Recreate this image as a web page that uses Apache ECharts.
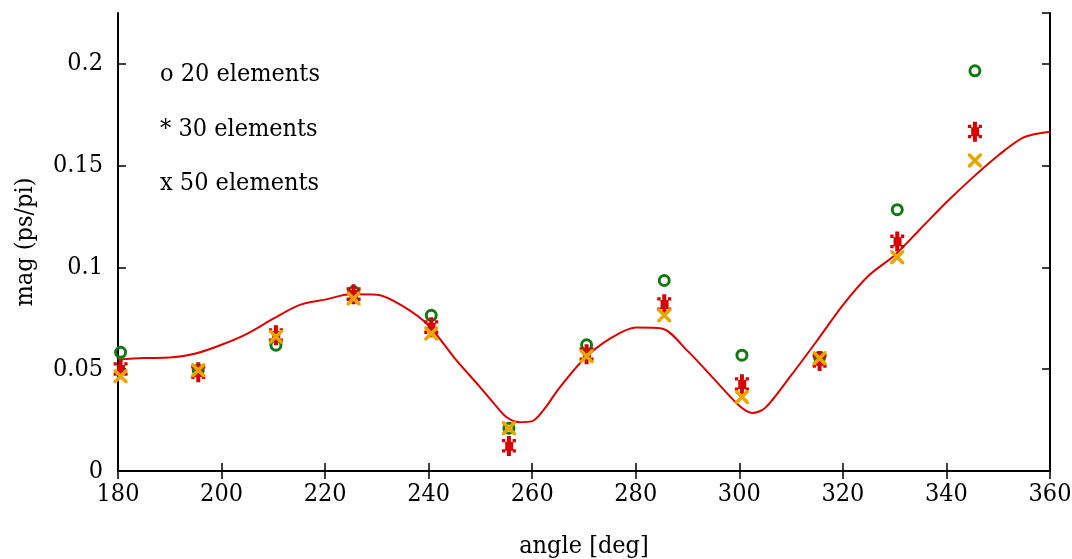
<!DOCTYPE html>
<html>
<head>
<meta charset="utf-8">
<script src="https://cdn.jsdelivr.net/npm/echarts@6/dist/echarts.min.js"></script>
<style>
  html, body { margin: 0; padding: 0; background: #fff; }
  #main { width: 1072px; height: 559px; }
</style>
</head>
<body>
<div id="main"></div>
<script>
// sample angles (deg) for the three element counts
var angles = [180.5, 195.5, 210.5, 225.5, 240.5, 255.5, 270.5, 285.5, 300.5, 315.5, 330.5, 345.5]
var mag20 = [0.0583, 0.0495, 0.0618, 0.088, 0.0765, 0.021, 0.062, 0.0936, 0.0569, 0.0559, 0.1284, 0.1966]
var mag30 = [0.050, 0.0485, 0.0667, 0.0868, 0.0706, 0.0123, 0.0574, 0.0819, 0.0426, 0.054, 0.1127, 0.1667]
var mag50 = [0.0466, 0.0495, 0.066, 0.0848, 0.0676, 0.021, 0.0564, 0.0765, 0.0363, 0.0554, 0.105, 0.1525]

// reference curve
var curveAngle = [180, 185, 190, 195, 200, 205, 210, 215, 220, 225, 230, 235, 240, 245, 250, 252.5, 255, 257.5, 260, 262.5, 265, 270, 275, 280, 285, 290, 295, 300, 302.5, 305, 310, 315, 320, 325, 330, 335, 340, 345, 350, 355, 360]
var curveMag = [0.0548, 0.0555, 0.0557, 0.0577, 0.062, 0.0675, 0.0748, 0.0815, 0.0842, 0.0868, 0.0866, 0.081, 0.0715, 0.0555, 0.041, 0.0335, 0.0265, 0.024, 0.0245, 0.031, 0.040, 0.055, 0.065, 0.0705, 0.070, 0.059, 0.0455, 0.032, 0.0285, 0.031, 0.047, 0.064, 0.0815, 0.096, 0.106, 0.119, 0.132, 0.144, 0.155, 0.164, 0.1667]

var legendLines = ['o 20 elements', '* 30 elements', 'x 50 elements']

var FONT = '"DejaVu Serif Condensed", "DejaVu Serif", serif'
var FS = 25
var starPath = 'path://M5,0h4v20h-4z M3.3,5.7h8v9h-8z M0,3h3.3v3.3h-3.3z M10.7,3h3.3v3.3h-3.3z M0,13.3h3.3v3.3h-3.3z M10.7,13.3h3.3v3.3h-3.3z'
var crossPath = 'path://M0,0 L2.5,0 L14,11.5 L14,14 L11.5,14 L0,2.5 Z M11.5,0 L14,0 L14,2.5 L2.5,14 L0,14 L0,11.5 Z'

function zip(xs, ys) {
  return xs.map(function (x, i) { return [x, ys[i]] })
}

var myChart = echarts.init(document.getElementById('main'))

var lineAxis = { show: true, lineStyle: { color: '#000', width: 2 } }
var tickIn = { show: true, inside: true, length: 8, lineStyle: { color: '#000', width: 1.5 } }

var option = {
  animation: false,
  backgroundColor: '#fff',
  grid: { left: 118, right: 22, top: 13, bottom: 88, outerBoundsMode: 'none', containLabel: false },
  xAxis: [{
    type: 'value', min: 180, max: 360, interval: 20,
    name: 'angle [deg]', nameLocation: 'middle', nameGap: 63,
    nameTextStyle: { fontFamily: FONT, fontSize: FS, color: '#000' },
    axisLine: lineAxis, axisTick: tickIn,
    axisLabel: { fontFamily: FONT, fontSize: FS, color: '#000', margin: 11 },
    splitLine: { show: false }
  }, {
    type: 'value', position: 'top', min: 180, max: 360, interval: 20,
    axisLine: lineAxis, axisTick: tickIn,
    axisLabel: { show: false }, splitLine: { show: false }
  }],
  yAxis: [{
    type: 'value', min: 0, max: 0.225, interval: 0.05,
    name: 'mag (ps/pi)', nameLocation: 'middle', nameGap: 80,
    nameTextStyle: { fontFamily: FONT, fontSize: FS, color: '#000' },
    axisLine: lineAxis, axisTick: tickIn,
    axisLabel: { fontFamily: FONT, fontSize: FS, color: '#000', margin: 15, showMaxLabel: false },
    splitLine: { show: false }
  }, {
    type: 'value', position: 'right', min: 0, max: 0.225, interval: 0.05,
    axisLine: lineAxis, axisTick: tickIn,
    axisLabel: { show: false }, splitLine: { show: false }
  }],
  graphic: legendLines.map(function (t, i) {
    return {
      type: 'text', left: 160, top: 62 + i * 54.5,
      style: { text: t, font: FS + 'px ' + FONT, fill: '#000' }
    }
  }),
  series: [
    {
      type: 'line', data: zip(curveAngle, curveMag), showSymbol: false, smooth: 0.3,
      lineStyle: { color: '#dd0000', width: 2 }, z: 2
    },
    {
      type: 'scatter', data: zip(angles, mag20), symbol: 'circle', symbolSize: 10,
      itemStyle: { color: 'rgba(0,0,0,0)', borderColor: '#137a13', borderWidth: 3, opacity: 1 }, z: 3
    },
    {
      type: 'scatter', data: zip(angles, mag30), symbol: starPath, symbolSize: [14, 20],
      itemStyle: { color: '#d80000', opacity: 1 }, z: 4
    },
    {
      type: 'scatter', data: zip(angles, mag50), symbol: crossPath, symbolSize: 14,
      itemStyle: { color: '#e8a600', opacity: 1 }, z: 5
    }
  ]
}

myChart.setOption(option)
</script>
</body>
</html>
